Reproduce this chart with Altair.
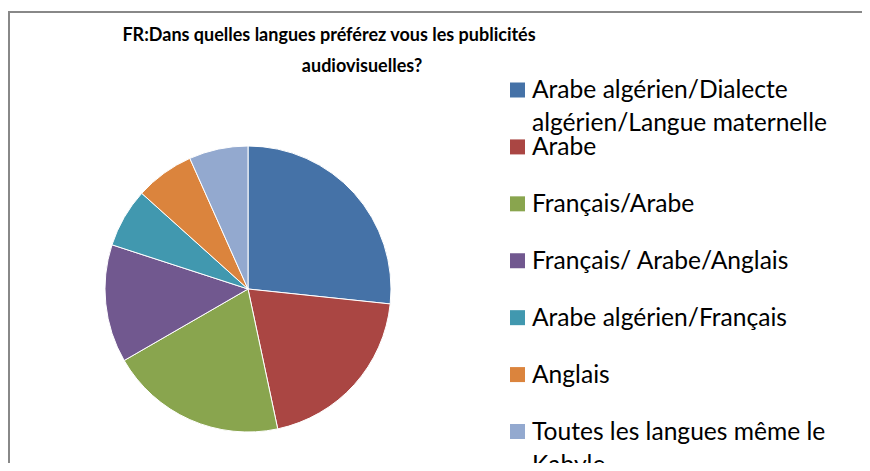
import altair as alt
import pandas as pd

categories = [
    "Arabe algérien/Dialecte algérien/Langue maternelle",
    "Arabe",
    "Français/Arabe",
    "Français/ Arabe/Anglais",
    "Arabe algérien/Français",
    "Anglais",
    "Toutes les langues même le Kabyle",
]
legend_labels = [
    "Arabe algérien/Dialecte|algérien/Langue maternelle",
    "Arabe",
    "Français/Arabe",
    "Français/ Arabe/Anglais",
    "Arabe algérien/Français",
    "Anglais",
    "Toutes les langues même le|Kabyle",
]
values = [4, 3, 3, 2, 1, 1, 1]
colors = ["#4572A7", "#AA4643", "#89A54E", "#71588F", "#4198AF", "#DB843D", "#93A9CF"]
title_lines = ["FR:Dans quelles langues préférez vous les publicités", "audiovisuelles?"]

FONT = "Lato"

df = pd.DataFrame({
    "cat": categories,
    "label": legend_labels,
    "value": values,
    "idx": list(range(len(categories))),
})

color_scale = alt.Scale(domain=categories, range=colors)

pie = alt.Chart(df).mark_arc(radius=143, stroke="white", strokeWidth=1).encode(
    theta=alt.Theta("value:Q", stack=True),
    color=alt.Color("cat:N", scale=color_scale, legend=None),
    order=alt.Order("idx:Q"),
    x=alt.value(240),
    y=alt.value(281),
)

ypos = alt.Y("cat:N", scale=alt.Scale(type="point", domain=categories, range=[82, 423.5], padding=0), axis=None)

leg_sym = alt.Chart(df).mark_point(shape="square", filled=True, size=225, opacity=1).encode(
    x=alt.value(509.5),
    y=ypos,
    color=alt.Color("cat:N", scale=color_scale, legend=None),
)

leg_text = alt.Chart(df).transform_calculate(
    lines="split(datum.label, '|')"
).mark_text(
    align="left", baseline="alphabetic", dy=8, lineHeight=33,
    font=FONT, fontSize=24.6, color="#000000",
).encode(
    x=alt.value(524),
    y=ypos,
    text="lines:N",
)

tdf = pd.DataFrame({"t": title_lines})
title1 = alt.Chart(tdf).transform_filter(alt.datum.t == title_lines[0]).mark_text(
    align="center", baseline="alphabetic", font=FONT, fontWeight="bold",
    fontSize=18, color="#000000",
).encode(x=alt.value(321), y=alt.value(33), text="t:N")
title2 = alt.Chart(tdf).transform_filter(alt.datum.t == title_lines[1]).mark_text(
    align="center", baseline="alphabetic", font=FONT, fontWeight="bold",
    fontSize=18, color="#000000",
).encode(x=alt.value(354), y=alt.value(64), text="t:N")

border_top = alt.Chart(tdf).transform_filter(alt.datum.t == title_lines[0]).mark_rule(
    color="#888888", strokeWidth=2
).encode(x=alt.value(0), x2=alt.value(854), y=alt.value(4))
border_left = alt.Chart(tdf).transform_filter(alt.datum.t == title_lines[0]).mark_rule(
    color="#888888", strokeWidth=2
).encode(x=alt.value(1), y=alt.value(3), y2=alt.value(455))

chart = alt.layer(border_top, border_left, pie, leg_sym, leg_text, title1, title2).properties(
    width=854, height=455, padding=0, autosize=alt.AutoSizeParams(type="none")
).configure_view(stroke=None)

chart.save("out.html", embed_options={"renderer": "svg", "actions": False})
